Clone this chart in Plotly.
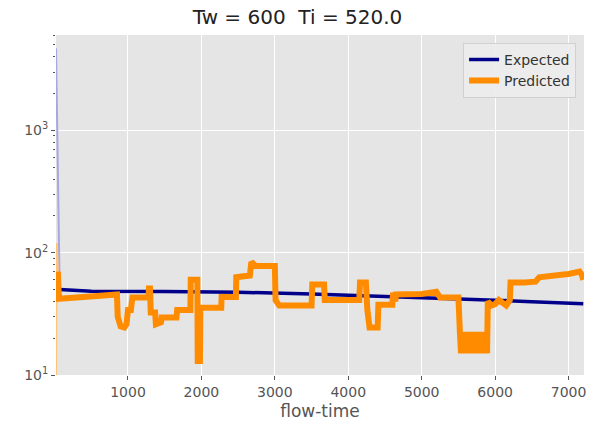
import plotly.graph_objects as go

# Expected series
exp_t = [20, 70, 500, 1500, 2500, 3500, 4500, 5500, 6500, 7200]
exp_v = [4700, 50, 48.5, 48.2, 47.5, 46, 44, 42, 39.8, 38.3]

# Predicted series (piecewise)
pred_t = [20, 30, 45, 60, 300, 600, 850, 860, 900, 950, 980, 1000, 1040, 1060, 1280,
          1285, 1300, 1310, 1370, 1380, 1450, 1460, 1660, 1670, 1850, 1855, 1945, 1950,
          1980, 1985, 2270, 2275, 2470, 2475, 2660, 2680, 2720, 2740, 3000, 3010, 3060,
          3500, 3510, 3670, 3680, 4150, 4160, 4240, 4260, 4290, 4400, 4410, 4600, 4610,
          4640, 4650, 5000, 5200, 5250, 5500, 5520,
          5535, 5550, 5565, 5580, 5595, 5610, 5625, 5640, 5655, 5670, 5685, 5700, 5715,
          5730, 5745, 5760, 5775, 5790, 5805, 5820, 5835, 5850, 5865, 5880, 5890,
          5900, 5950, 6000, 6050, 6100, 6150, 6200, 6210, 6400, 6550, 6600, 6800, 6900,
          7000, 7100, 7150, 7180, 7200]
pred_v = [10, 120, 70, 42, 43, 44, 45.5, 30, 25, 24.5, 26, 34, 34, 43, 43,
          51, 51, 32.5, 32.5, 26, 27, 29.5, 29.5, 34, 34, 60, 60, 13,
          13, 35.5, 35.5, 43.5, 43.5, 63, 65, 84, 80, 78, 78, 41, 37,
          37, 55, 55, 41, 41, 57, 57, 34, 24.5, 24.5, 37.6, 37.6, 47,
          40, 45.5, 46, 48, 43, 43, 22.5,
          15, 22.5, 15, 22.5, 15, 22.5, 15, 22.5, 15, 22.5, 15, 22.5, 15,
          22.5, 15, 22.5, 15, 22.5, 15, 22.5, 15, 22.5, 15, 22.5, 15,
          40, 37, 38, 41, 39, 37, 41, 57, 57, 58, 63, 64, 66,
          67, 68, 70, 66, 60]

x_ticks = [1000, 2000, 3000, 4000, 5000, 6000, 7000]
y_ticks = [10, 100, 1000]
y_ticktext = ["10<sup>1</sup>", "10<sup>2</sup>", "10<sup>3</sup>"]
y_minor = [20, 30, 40, 50, 60, 70, 80, 90, 200, 300, 400, 500, 600, 700, 800, 900,
           2000, 3000, 4000, 5000, 6000]

fig = go.Figure()
# faint steep start segments (thin in the reference raster)
fig.add_trace(go.Scatter(x=exp_t[:2], y=exp_v[:2], mode="lines", showlegend=False,
                         hoverinfo="skip", line=dict(color="#A8A8E0", width=2)))
fig.add_trace(go.Scatter(x=pred_t[:3], y=pred_v[:3], mode="lines", showlegend=False,
                         hoverinfo="skip", line=dict(color="#FFC47A", width=2)))
fig.add_trace(go.Scatter(x=exp_t[1:], y=exp_v[1:], mode="lines", name="Expected",
                         line=dict(color="#00008B", width=3.5)))
fig.add_trace(go.Scatter(x=pred_t[2:], y=pred_v[2:], mode="lines", name="Predicted",
                         line=dict(color="#FF8C00", width=6)))

font = "DejaVu Sans"
fig.update_layout(
    width=595, height=432,
    margin=dict(l=56, r=9, t=35, b=57),
    paper_bgcolor="white", plot_bgcolor="#E5E5E5",
    font=dict(family=font, color="#555555", size=14),
    title=dict(text="Tw = 600  Ti = 520.0", x=0.5, xanchor="center",
               y=1 - 17 / 432, yanchor="middle",
               font=dict(family=font, size=20, color="#222222")),
    showlegend=True,
    legend=dict(x=0.985, y=0.977, xanchor="right", yanchor="top",
                bgcolor="rgba(236,236,236,0.9)", bordercolor="#D0D0D0", borderwidth=1,
                font=dict(family=font, size=14, color="#333333"),
                tracegroupgap=0, itemwidth=30),
    xaxis=dict(range=[20, 7210], tickvals=x_ticks, showgrid=True, gridcolor="white",
               gridwidth=1.2, zeroline=False, ticks="outside", ticklen=4,
               tickcolor="#555555", tickfont=dict(size=14, color="#555555"),
               title=dict(text="flow-time", font=dict(size=17, color="#555555"), standoff=6),
               showline=False),
    yaxis=dict(type="log", range=[1, 3.78], tickvals=y_ticks, ticktext=y_ticktext,
               showgrid=True, gridcolor="white", gridwidth=1.2, zeroline=False,
               ticks="outside", ticklen=4, tickcolor="#555555",
               tickfont=dict(size=14, color="#555555"),
               minor=dict(tickvals=y_minor, ticks="outside", ticklen=2,
                          tickcolor="#555555", showgrid=False),
               showline=False),
)

fig.write_html("out.html")
